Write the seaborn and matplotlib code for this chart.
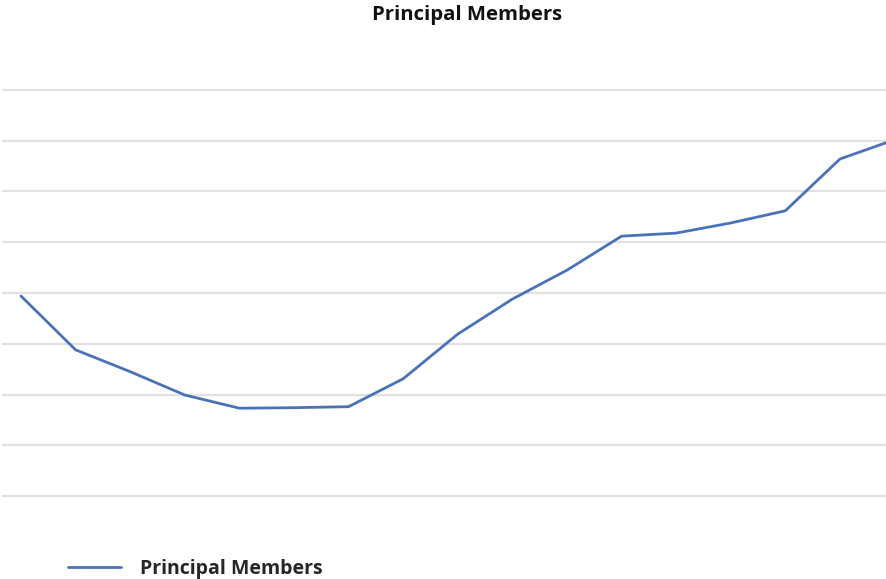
import matplotlib
matplotlib.use("Agg")
import matplotlib.pyplot as plt
import seaborn as sns
import pandas as pd

# Data (arbitrary units; gridlines every 100)
periods = list(range(17))
members = [394, 288, 245, 199, 173, 174, 176, 231, 319, 388, 445, 512, 518, 538, 562, 664, 702]
series_name = "Principal Members"
title = "Principal Members"

df = pd.DataFrame({"period": periods, "value": members})

sns.set_theme(style="white")
plt.rcParams["font.family"] = ["Open Sans", "DejaVu Sans"]

W, H = 886, 579
fig = plt.figure(figsize=(W / 100, H / 100), dpi=100)

ax_left = 2 / W
ax_width = 898 / W
y_bot_px = 496 + 10 * 0.5075
y_top_px = 90 - 10 * 0.5075
ax = fig.add_axes([ax_left, (H - y_bot_px) / H, ax_width, (y_bot_px - y_top_px) / H])

sns.lineplot(data=df, x="period", y="value", ax=ax, color="#4a72b8",
             linewidth=2.0, label=series_name, legend=False)

ax.set_xlim(-0.348, 16.1)
ax.set_ylim(-10, 810)
ax.set_yticks(range(0, 801, 100))
ax.set_xticks([])
ax.yaxis.grid(True, color="#e2e2e2", linewidth=1.6)
ax.set_axisbelow(True)
ax.tick_params(axis="y", left=False, labelleft=False)
ax.set_xlabel("")
ax.set_ylabel("")
for s in ax.spines.values():
    s.set_visible(False)

fig.text(467 / W, 1 - 15 / H, title, ha="center", va="center",
         fontsize=14.6, fontweight="bold", color="#111111")

handles, labels = ax.get_legend_handles_labels()
fig.legend(handles, labels, loc="center left",
           bbox_to_anchor=(68 / W, (H - 569) / H), bbox_transform=fig.transFigure,
           frameon=False, borderpad=0, borderaxespad=0,
           handlelength=2.75, handletextpad=0.95,
           prop={"size": 14, "weight": "bold"})

fig.savefig("out.png", dpi=100)
